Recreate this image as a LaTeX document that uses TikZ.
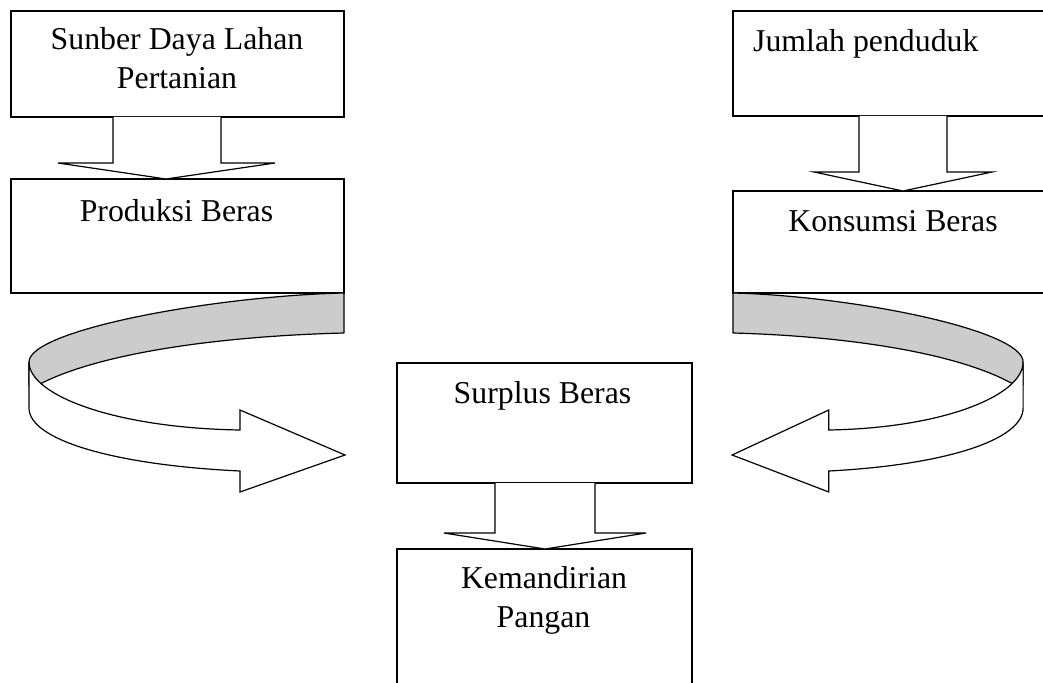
\documentclass[tikz,border=0pt]{standalone}
\usepackage{fontspec}
\setmainfont{Liberation Serif}
\usetikzlibrary{calc}
\definecolor{ribbon}{RGB}{204,204,204}
\begin{document}
\begin{tikzpicture}[x=1pt,y=-1pt,
  box/.style={draw, line width=1.2pt, fill=white, rectangle, inner sep=0pt, outer sep=0pt},
  lbl/.style={inner sep=0pt, anchor=base, font=\fontsize{31.8}{37}\selectfont},
  blk/.style={draw, line width=1.2pt, fill=white, line join=miter},
  back/.style={draw, line width=1.2pt, fill=ribbon, line join=round},
  front/.style={draw, line width=1.2pt, fill=white, line join=miter}]
\clip (0,0) rectangle (1043,682);
\fill[white] (0,0) rectangle (1043,682);

% boxes
\node[box, minimum width=333pt, minimum height=106pt] (A) at (177.5,64) {};
\node[box, minimum width=333pt, minimum height=114pt] (B) at (177.5,236) {};
\node[box, minimum width=327pt, minimum height=105pt] (C) at (896.5,63.5) {};
\node[box, minimum width=327pt, minimum height=102pt] (D) at (896.5,242) {};
\node[box, minimum width=295pt, minimum height=120pt] (E) at (544.5,423) {};
\node[box, minimum width=295pt, minimum height=151pt] (F) at (544.5,624.5) {};

% texts
\node[lbl] (tA1) at (177,50) {Sunber Daya Lahan};
\node[lbl] (tA2) at (177,89) {Pertanian};
\node[lbl] (tB) at (176.5,221) {Produksi Beras};
\node[lbl, anchor=base west] (tC) at (753,52) {Jumlah penduduk};
\node[lbl] (tD) at (893,231) {Konsumsi Beras};
\node[lbl] (tE) at (542.5,403) {Surplus Beras};
\node[lbl] (tF1) at (544,588) {Kemandirian};
\node[lbl] (tF2) at (543.5,627) {Pangan};

% block arrows
\draw[blk] ($(A.south west)+(102,0)$) -- ($(A.south west)+(102,46)$) -- ($(A.south west)+(47,46)$)
  -- ($(B.north west)+(155,0)$) -- ($(A.south west)+(264,46)$) -- ($(A.south west)+(210,46)$)
  -- ($(A.south west)+(210,0)$);
\draw[blk] ($(C.south west)+(126,0)$) -- ($(C.south west)+(126,56)$) -- ($(C.south west)+(81,56)$)
  -- ($(D.north west)+(170,0)$) -- ($(C.south west)+(259,56)$) -- ($(C.south west)+(214,56)$)
  -- ($(C.south west)+(214,0)$);
\draw[blk] ($(E.south west)+(98,0)$) -- ($(E.south west)+(98,50)$) -- ($(E.south west)+(47,50)$)
  -- ($(F.north west)+(148,0)$) -- ($(E.south west)+(249,50)$) -- ($(E.south west)+(198,50)$)
  -- ($(E.south west)+(198,0)$);

% curved ribbon arrows
\begin{scope}[shift={(B.south east)}, xscale=-1]
  \path[back] (0,0) .. controls (130,3) and (315,37) .. (315,69) -- (315,92) -- (302,90)
    .. controls (240,59) and (120,43) .. (0,40) -- cycle;
  \path[front] (315,69) .. controls (315,102) and (230,135) .. (104,137) -- (104,117)
    -- (-1,162) -- (104,199) -- (104,178) .. controls (230,172) and (315,147) .. (315,115) -- cycle;
\end{scope}
\begin{scope}[shift={(D.south west)}, xscale=0.921]
  \path[back] (0,0) .. controls (130,3) and (315,37) .. (315,69) -- (315,92) -- (302,90)
    .. controls (240,59) and (120,43) .. (0,40) -- cycle;
  \path[front] (315,69) .. controls (315,102) and (230,135) .. (104,137) -- (104,117)
    -- (-1,162) -- (104,199) -- (104,178) .. controls (230,172) and (315,147) .. (315,115) -- cycle;
\end{scope}
\end{tikzpicture}
\end{document}
